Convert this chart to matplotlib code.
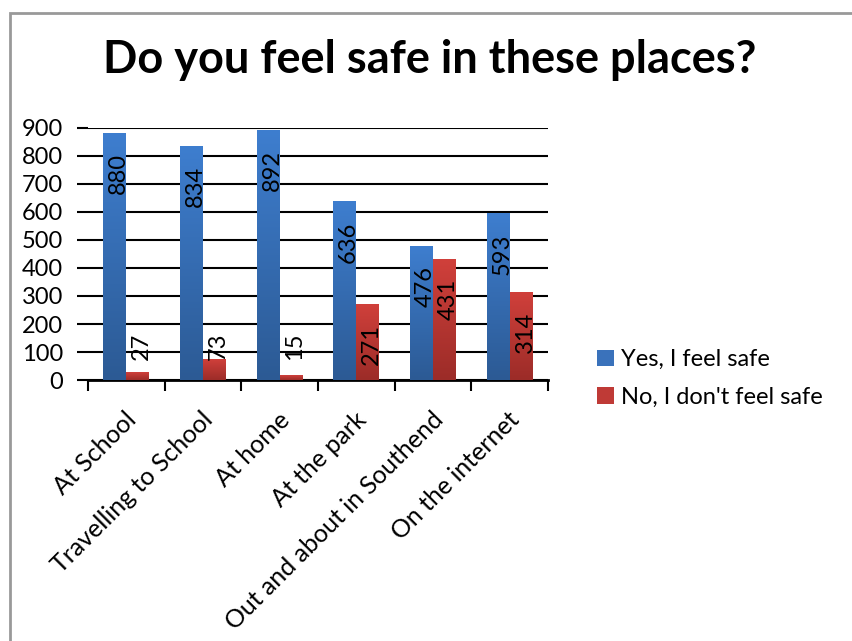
import numpy as np
import matplotlib
matplotlib.use("Agg")
import matplotlib.pyplot as plt
from matplotlib.colors import LinearSegmentedColormap
from matplotlib.patches import Rectangle
from matplotlib.transforms import ScaledTranslation

places = ["At School", "Travelling to School", "At home", "At the park",
          "Out and about in Southend", "On the internet"]
safe = [880, 834, 892, 636, 476, 593]
not_safe = [27, 73, 15, 271, 431, 314]
series_names = ["Yes, I feel safe", "No, I don't feel safe"]
yticks = [0, 100, 200, 300, 400, 500, 600, 700, 800, 900]

plt.rcParams['font.family'] = ['Lato', 'DejaVu Sans']

fig = plt.figure(figsize=(8.53, 6.41), dpi=100)
ax = fig.add_axes([88/853, 1 - 380/641, 460/853, 252/641])

blue_cmap = LinearSegmentedColormap.from_list("b", ["#2c5a94", "#3e7ecf"])
red_cmap = LinearSegmentedColormap.from_list("r", ["#9c2c28", "#d0403b"])
grad = np.linspace(0, 1, 256).reshape(-1, 1)

x = np.arange(len(places))
w = 0.3
b1 = ax.bar(x - w/2, safe, w, color="#3a72bb", zorder=2, label=series_names[0])
b2 = ax.bar(x + w/2, not_safe, w, color="#bf3a36", zorder=2, label=series_names[1])

for bars, cmap in [(b1, blue_cmap), (b2, red_cmap)]:
    for bar in bars:
        bx, by = bar.get_xy()
        bw, bh = bar.get_width(), bar.get_height()
        ax.imshow(grad, extent=[bx, bx + bw, by, by + bh], origin="lower",
                  aspect="auto", cmap=cmap, zorder=3)

# value labels, rotated like the original
for vals, off in [(safe, -w/2), (not_safe, w/2)]:
    for i, v in enumerate(vals):
        ax.text(i + off + 0.05, max(v - 143, 121), str(v), rotation=90,
                ha="center", va="center", fontsize=17, zorder=4)

ax.set_xlim(-0.5, len(places) - 0.5)
ax.set_ylim(0, 900)
ax.set_yticks(yticks)
ax.tick_params(axis="y", labelsize=17, length=8, width=1.5, pad=10)
ax.yaxis.grid(True, color="black", linewidth=1.5, zorder=1)
ax.set_axisbelow(True)

ax.set_xticks(x)
ax.set_xticklabels(places, rotation=45, ha="right", rotation_mode="anchor",
                   fontsize=18)
ax.tick_params(axis="x", which="major", length=0, pad=20)
ax.set_xticks(np.arange(-0.5, len(places)), minor=True)
ax.tick_params(axis="x", which="minor", length=8, width=1.5)
for lab in ax.get_xticklabels():
    lab.set_transform(lab.get_transform() + ScaledTranslation(-0.02, 0, fig.dpi_scale_trans))

for s in ["top", "right", "left"]:
    ax.spines[s].set_visible(False)
ax.spines["bottom"].set_linewidth(2)

fig.text(0.504, 1 - 60/641, "Do you feel safe in these places?", ha="center",
         va="center", fontsize=32.5, fontweight="bold")

fig.legend(handles=[b1, b2], labels=series_names, loc="upper left",
           bbox_to_anchor=(576/853, 1 - 328/641), frameon=False, fontsize=17,
           handlelength=0.7, handleheight=0.7, handletextpad=0.3,
           labelspacing=0.7)

fig.patches.append(Rectangle((10/853, -0.1), 1.2, 1.1 - 13/641,
                             transform=fig.transFigure, fill=False,
                             edgecolor="#999999", linewidth=2))

fig.savefig("out.png", dpi=100)
